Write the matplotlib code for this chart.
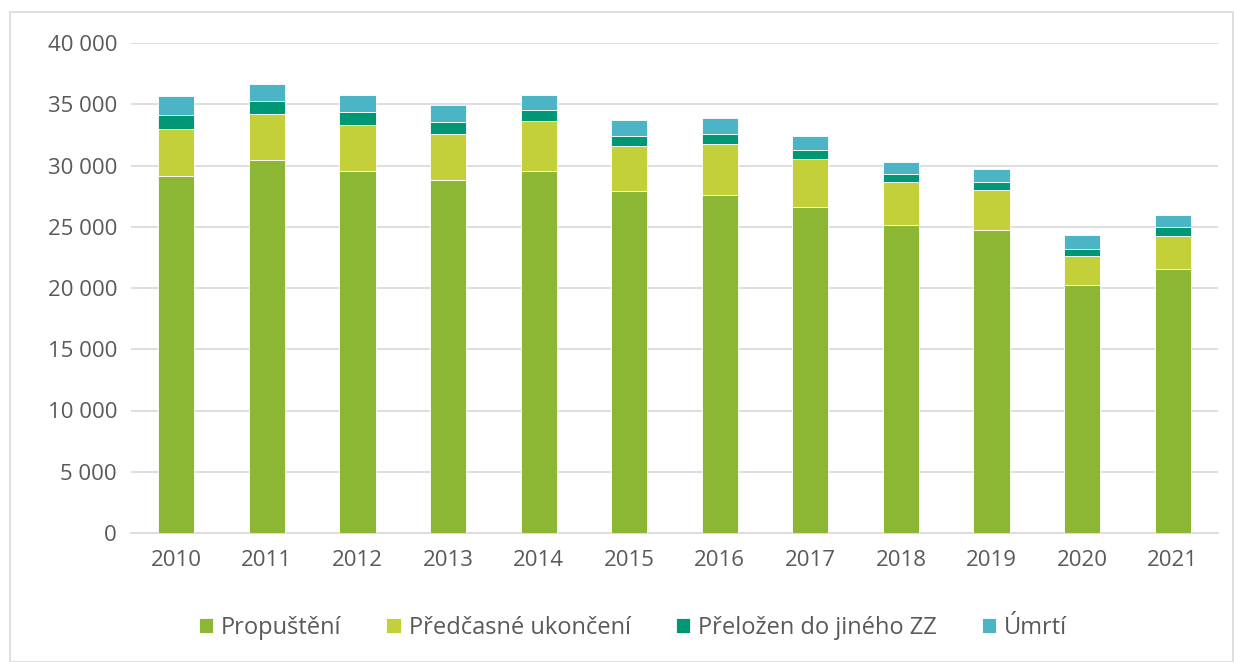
import matplotlib
matplotlib.use("Agg")
import matplotlib.pyplot as plt
from matplotlib.ticker import FuncFormatter, MultipleLocator
from matplotlib.patches import Rectangle
import numpy as np

years = ["2010", "2011", "2012", "2013", "2014", "2015", "2016", "2017", "2018", "2019", "2020", "2021"]
propusteni = [29150, 30455, 29590, 28800, 29590, 27927, 27560, 26630, 25130, 24740, 20210, 21573]
predcasne = [3835, 3785, 3750, 3807, 4023, 3671, 4190, 3860, 3483, 3220, 2366, 2693]
prelozen = [1145, 1030, 1007, 924, 922, 816, 816, 761, 677, 653, 572, 677]
umrti = [1522, 1387, 1387, 1387, 1254, 1281, 1281, 1197, 1012, 1142, 1142, 979]

series_names = ["Propuštění", "Předčasné ukončení", "Přeložen do jiného ZZ", "Úmrtí"]
colors = ["#8BB734", "#C3D03A", "#009775", "#4BB5C5"]

plt.rcParams['font.family'] = ['Open Sans', 'DejaVu Sans']
text_color = "#595959"

fig = plt.figure(figsize=(12.34, 6.62), dpi=100)
W, H = 1234, 662
ax = fig.add_axes([131 / W, 1 - 533 / H, (1218 - 131) / W, (533 - 43) / H])

x = np.arange(len(years))
bottom = np.zeros(len(years))
for name, vals, c in zip(series_names, [propusteni, predcasne, prelozen, umrti], colors):
    ax.bar(x, vals, 0.4, bottom=bottom, color=c, label=name, edgecolor="white", linewidth=0.6, zorder=3)
    bottom += np.array(vals)

ax.set_xlim(-0.5, len(years) - 0.5)
ax.set_ylim(0, 40000)
ax.yaxis.set_major_locator(MultipleLocator(5000))
ax.yaxis.set_major_formatter(FuncFormatter(lambda v, p: f"{int(v):,}".replace(",", " ")))
ax.set_xticks(x)
ax.set_xticklabels(years)
ax.grid(axis="y", color="#D9D9D9", linewidth=1.2, zorder=0)
for s in ["top", "right", "left"]:
    ax.spines[s].set_visible(False)
ax.spines["bottom"].set_color("#D9D9D9")
ax.spines["bottom"].set_linewidth(1.2)
ax.tick_params(axis="both", length=0, labelsize=16, colors=text_color)
ax.tick_params(axis="y", pad=10)
ax.tick_params(axis="x", pad=12)

leg = fig.legend(loc="center", bbox_to_anchor=(633 / W, 1 - 628 / H), ncol=4, frameon=False,
                 fontsize=17, handlelength=0.6, handleheight=0.6, handletextpad=0.35, columnspacing=1.9)
for t in leg.get_texts():
    t.set_color(text_color)

fig.patches.append(Rectangle((10 / W, 0), (W - 10) / W - 0.001, 1 - 12 / H, transform=fig.transFigure,
                             fill=False, edgecolor="#D9D9D9", linewidth=1.2))

fig.savefig("out.png", dpi=100)
